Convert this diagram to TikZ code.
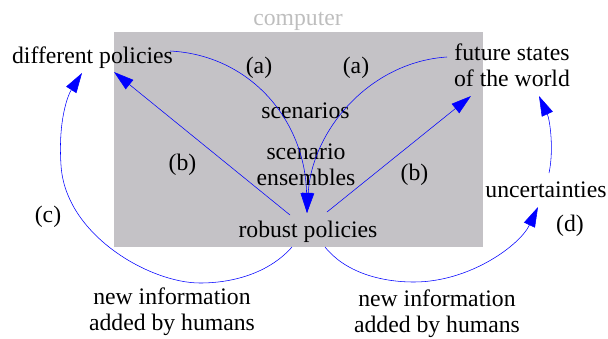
\documentclass[tikz,border=0pt]{standalone}
\usepackage{fontspec}
\setmainfont{Liberation Serif}
\usetikzlibrary{arrows.meta}
\definecolor{boxgray}{RGB}{196,194,198}
\definecolor{labgray}{RGB}{190,190,190}
\definecolor{arrblue}{RGB}{0,0,255}
\begin{document}
\begin{tikzpicture}[x=1pt,y=-1pt,
  lbl/.style={inner sep=0pt, anchor=base, font=\fontsize{23.7}{26}\selectfont, align=center},
  lbltwo/.style={lbl, font=\fontsize{23.7}{25.5}\selectfont},
  conn/.style={draw=arrblue, line width=0.55pt},
  tip/.style={-{Triangle[length=20pt,width=12pt]}},
]
\useasboundingbox (0,0) rectangle (608,338);
\node[fill=boxgray, draw=none, inner sep=0pt, minimum width=369pt, minimum height=215pt, anchor=north west] (box) at (114,32) {};
\node[lbl, text=labgray] (complab) at (298,25) {computer};
\node[lbl] (dp) at (92.5,63) {different policies};
\node[lbl] (fs) at (512,86) {future states\\of the world};
\node[lbl] (sc) at (305.5,118) {scenarios};
\node[lbl] (se) at (306,185) {scenario\\ensembles};
\node[lbl] (rp) at (308,237) {robust policies};
\node[lbl] (un) at (546,197) {uncertainties};
\node[lbl] (la1) at (259,73) {(a)};
\node[lbl] (la2) at (356,73) {(a)};
\node[lbl] (lb1) at (182.5,170) {(b)};
\node[lbl] (lb2) at (414.5,180) {(b)};
\node[lbl] (lc) at (48,222.5) {(c)};
\node[lbl] (ld) at (570,231) {(d)};
\node[lbltwo] (ni1) at (172,330) {new information\\added by humans};
\node[lbltwo] (ni2) at (437,332) {new information\\added by humans};
% (a) arrows
\draw[conn,tip] ([shift={(77.5,-12)}]dp.base) .. controls (250,55) and (305,120) .. ([shift={(-1,-24)}]rp.base);
\draw[conn,tip] ([shift={(-65,-29)}]fs.base) .. controls (370,62) and (312,130) .. ([shift={(-1,-24)}]rp.base);
% (b) arrows
\draw[conn,tip] ([shift={(-18,-22)}]rp.base) -- ([shift={(21.5,9)}]dp.base);
\draw[conn,tip] ([shift={(19,-25)}]rp.base) -- ([shift={(-41,10)}]fs.base);
% (c)
\draw[conn,tip] ([shift={(-16,10)}]rp.base) .. controls (270,272) and (235,283) .. (200,283)
  .. controls (150,283) and (65,235) .. (61,165)
  .. controls (58,120) and (68,95) .. ([shift={(-10.5,10)}]dp.base);
% (d)
\draw[conn,tip] ([shift={(17,10)}]rp.base) .. controls (345,272) and (380,282) .. (414,282)
  .. controls (470,282) and (520,245) .. ([shift={(-8,10)}]un.base);
% uncertainties -> future states
\draw[conn,tip] ([shift={(3,-24)}]un.base) .. controls (554,150) and (550,120) .. ([shift={(27,10)}]fs.base);
\end{tikzpicture}
\end{document}
